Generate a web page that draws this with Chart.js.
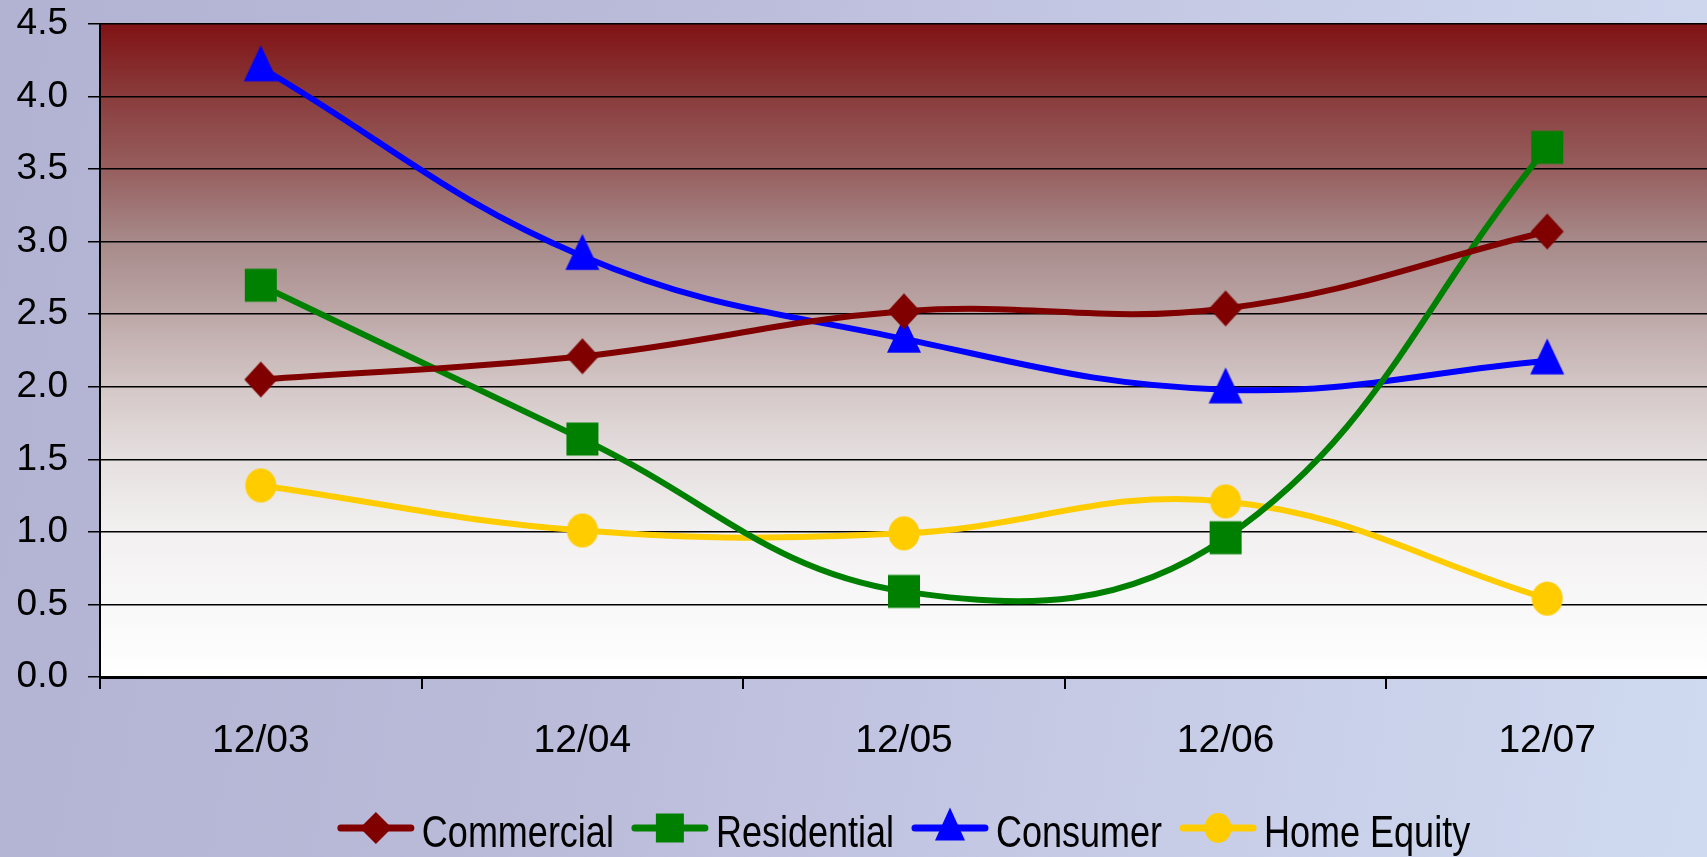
<!DOCTYPE html>
<html>
<head>
<meta charset="utf-8">
<script src="https://cdn.jsdelivr.net/npm/chart.js@4.4.1/dist/chart.umd.min.js"></script>
<style>
html, body { margin: 0; padding: 0; overflow: hidden; }
body {
    width: 1707px; height: 857px;
    background: linear-gradient(100deg, #b2b2d2 0%, #babad9 35%, #c6cae5 65%, #cfdaf0 100%);
}
#area { width: 1718px; height: 857px; }
</style>
</head>
<body>
<div id="area"><canvas id="grafico" width="1718" height="857"></canvas></div>
<script>
//Dados do grafico
var categorias = ['12/03', '12/04', '12/05', '12/06', '12/07'];
var commercial = [2.05, 2.21, 2.52, 2.54, 3.07];
var residential = [2.70, 1.64, 0.59, 0.96, 3.65];
var consumer = [4.20, 2.90, 2.33, 1.98, 2.18];
var homeEquity = [1.32, 1.01, 0.99, 1.21, 0.54];
var rotulosY = ['0.0', '0.5', '1.0', '1.5', '2.0', '2.5', '3.0', '3.5', '4.0', '4.5'];

//Desenha um marcador (losango, quadrado, triangulo, circulo)
function desenhaMarcador(ctx, forma, cor, cx, cy, w, h) {
    ctx.fillStyle = cor;
    ctx.beginPath();
    if (forma === 'losango') {
        ctx.moveTo(cx, cy - h / 2);
        ctx.lineTo(cx + w / 2, cy);
        ctx.lineTo(cx, cy + h / 2);
        ctx.lineTo(cx - w / 2, cy);
    } else if (forma === 'quadrado') {
        ctx.rect(cx - w / 2, cy - h / 2, w, h);
    } else if (forma === 'triangulo') {
        ctx.moveTo(cx, cy - h * 0.62);
        ctx.lineTo(cx + w / 2, cy + h * 0.38);
        ctx.lineTo(cx - w / 2, cy + h * 0.38);
    } else {
        ctx.ellipse(cx, cy, w / 2, h / 2, 0, 0, Math.PI * 2);
    }
    ctx.closePath();
    ctx.fill();
}

function marcador(forma, cor, w, h) {
    var c = document.createElement('canvas');
    c.width = 48; c.height = 48;
    desenhaMarcador(c.getContext('2d'), forma, cor, 24, 24, w, h);
    return c;
}

var series = [
    { nome: 'Commercial', dados: commercial, cor: '#800000', forma: 'losango', w: 33, h: 36, lw: 32, lh: 32 },
    { nome: 'Residential', dados: residential, cor: '#008000', forma: 'quadrado', w: 32, h: 33, lw: 28, lh: 29 },
    { nome: 'Consumer', dados: consumer, cor: '#0000ff', forma: 'triangulo', w: 34, h: 36, lw: 30, lh: 33 },
    { nome: 'Home Equity', dados: homeEquity, cor: '#ffcc00', forma: 'circulo', w: 31, h: 34, lw: 27, lh: 30 }
];

//Fundo da area do grafico (degrade vermelho -> branco)
var fundoPlot = {
    id: 'fundoPlot',
    beforeDraw: function(chart) {
        var a = chart.chartArea, ctx = chart.ctx;
        var g = ctx.createLinearGradient(0, a.top, 0, a.bottom);
        g.addColorStop(0, '#801214');
        g.addColorStop(0.111, '#8a3c3c');
        g.addColorStop(0.222, '#975e5e');
        g.addColorStop(0.333, '#a78a8a');
        g.addColorStop(0.444, '#bda7a7');
        g.addColorStop(0.556, '#d4c7c7');
        g.addColorStop(0.667, '#e6e0e0');
        g.addColorStop(0.778, '#f2f0f0');
        g.addColorStop(0.889, '#f9f8f8');
        g.addColorStop(1, '#ffffff');
        ctx.save();
        ctx.fillStyle = g;
        ctx.fillRect(a.left, a.top, a.right - a.left, a.bottom - a.top);
        ctx.restore();
    }
};

//Legenda desenhada a mao: linha + marcador + texto estreito
var legenda = {
    id: 'legenda',
    afterDraw: function(chart) {
        var ctx = chart.ctx, a = chart.chartArea;
        var escala = 0.80, linha = 76, gapTexto = 8, gapItem = 18;
        var base = chart.height - 10;
        var meio = base - 19;
        ctx.save();
        ctx.font = '45px "Liberation Sans", Arial, sans-serif';
        var larguras = series.map(function(s) { return ctx.measureText(s.nome).width * escala; });
        var total = 0;
        larguras.forEach(function(l) { total += linha + gapTexto + l; });
        total += gapItem * (series.length - 1);
        var x = (a.left + a.right) / 2 - total / 2;
        series.forEach(function(s, i) {
            ctx.strokeStyle = s.cor;
            ctx.lineWidth = 7;
            ctx.lineCap = 'round';
            ctx.beginPath();
            ctx.moveTo(x + 3, meio);
            ctx.lineTo(x + linha - 3, meio);
            ctx.stroke();
            desenhaMarcador(ctx, s.forma, s.cor, x + linha / 2, meio, s.lw, s.lh);
            x += linha + gapTexto;
            ctx.save();
            ctx.translate(x, base);
            ctx.scale(escala, 1);
            ctx.fillStyle = '#000';
            ctx.textBaseline = 'alphabetic';
            ctx.textAlign = 'left';
            ctx.fillText(s.nome, 0, 0);
            ctx.restore();
            x += larguras[i] + gapItem;
        });
        ctx.restore();
    }
};

window.onload = function() {
    var contexto = document.getElementById('grafico').getContext('2d');
    var grafico = new Chart(contexto, {
        type: 'line',
        data: {
            labels: categorias,
            datasets: series.map(function(s) {
                return {
                    label: s.nome,
                    data: s.dados,
                    borderColor: s.cor,
                    backgroundColor: s.cor,
                    borderWidth: 6,
                    tension: 0.4,
                    fill: false,
                    pointStyle: marcador(s.forma, s.cor, s.w, s.h)
                };
            })
        },
        options: {
            responsive: false,
            animation: false,
            devicePixelRatio: 1,
            events: [],
            layout: { padding: { top: 24, left: 0, right: 0, bottom: 64 } },
            scales: {
                x: {
                    offset: true,
                    afterFit: function(scale) { scale.height = 116; },
                    grid: { display: true, drawOnChartArea: false, drawTicks: true, tickLength: 12, offset: true, color: '#000', lineWidth: 2 },
                    border: { display: true, color: '#000', width: 3 },
                    ticks: { color: '#000', padding: 29, font: { family: "'Liberation Sans', Arial, sans-serif", size: 39 } }
                },
                y: {
                    min: 0,
                    max: 4.5,
                    afterFit: function(scale) { scale.width = 100; },
                    grid: { color: '#000', lineWidth: 1.5, drawTicks: true, tickLength: 12 },
                    border: { display: true, color: '#000', width: 2 },
                    ticks: {
                        stepSize: 0.5,
                        color: '#000',
                        padding: 20,
                        font: { family: "'Liberation Sans', Arial, sans-serif", size: 37, lineHeight: 0.2 },
                        callback: function(valor, i) { return rotulosY[i]; }
                    }
                }
            },
            plugins: {
                tooltip: { enabled: false },
                legend: { display: false }
            }
        },
        plugins: [fundoPlot, legenda]
    });
}
</script>
</body>
</html>
